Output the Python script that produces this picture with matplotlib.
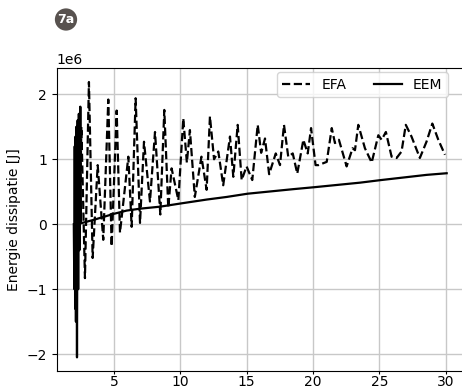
import numpy as np
import matplotlib.pyplot as plt

# EFA (gestippeld), x en energie in 1e6 J
efa_x = [2.10, 2.25, 2.40, 2.55, 2.82, 3.12, 3.40, 3.78, 4.20, 4.58, 4.83, 5.21,
         5.46, 6.09, 6.34, 6.64, 6.97, 7.27, 7.72, 8.10, 8.50, 8.80, 9.10, 9.35,
         9.86, 10.23, 10.50, 10.73, 11.10, 11.60, 11.99, 12.24, 12.55, 12.87, 13.24,
         13.75, 14.00, 14.33, 14.63, 15.00, 15.43, 15.84, 16.10, 16.39, 16.70, 17.20,
         17.52, 17.82, 18.14, 18.48, 18.82, 19.28, 19.61, 19.86, 20.20, 20.41, 21.04,
         21.42, 21.66, 21.96, 22.54, 22.99, 23.17, 23.42, 23.92, 24.43, 24.93, 25.18,
         25.50, 25.93, 26.31, 26.68, 27.00, 27.43, 28.06, 28.56, 29.00, 29.45, 29.95]
efa_y = [0.00, 1.10, -0.30, 1.50, -0.83, 2.19, -0.52, 0.91, -0.24, 1.92, -0.34, 1.75,
         -0.13, 1.04, -0.04, 1.94, 0.02, 1.27, 0.35, 1.42, 0.15, 1.76, 0.25, 0.86,
         0.37, 1.63, 0.95, 1.45, 0.42, 1.04, 0.53, 1.66, 1.00, 1.12, 0.60,
         1.35, 0.73, 1.53, 0.68, 0.89, 0.68, 1.53, 1.10, 1.32, 0.77, 1.09,
         0.91, 1.53, 1.04, 1.09, 0.78, 1.30, 1.09, 1.48, 0.91, 0.91, 0.96,
         1.48, 1.25, 1.30, 0.89, 1.17, 1.14, 1.53, 1.17, 0.95, 1.37, 1.30,
         1.42, 1.04, 1.02, 1.12, 1.53, 1.35, 1.02, 1.27, 1.55, 1.30, 1.07]

# EEM (doorgetrokken)
eem_x = [1.98, 2.02, 2.05, 2.08, 2.11, 2.14, 2.17, 2.22, 2.27, 2.31, 2.36, 2.40,
         2.47, 2.52, 3.45, 5.00, 5.96, 7.00, 8.47, 10.05, 12.00, 13.50, 15.08,
         18.52, 20.10, 23.55, 25.13, 28.57, 30.08]
eem_y = [0.00, -1.00, 1.20, -1.30, 1.35, -1.50, 1.50, -2.05, 1.60, -1.00, 1.70, -0.40,
         1.81, 0.015, 0.066, 0.16, 0.21, 0.24, 0.27, 0.32, 0.38, 0.42, 0.47,
         0.54, 0.57, 0.64, 0.68, 0.76, 0.785]

efa_y = np.array(efa_y) * 1e6
eem_y = np.array(eem_y) * 1e6

fig = plt.figure(figsize=(4.62, 3.9), dpi=100)
ax = fig.add_axes([0.1227, 0.0487, 0.8823, 0.7777])

ax.plot(efa_x, efa_y, '--', color='black', lw=1.6, label='EFA')
ax.plot(eem_x, eem_y, '-', color='black', lw=1.6, label='EEM')

ax.set_xlim(0.69, 31.41)
ax.set_ylim(-2.26e6, 2.41e6)
ax.set_xticks([5, 10, 15, 20, 25, 30])
ax.tick_params(axis='x', length=2, pad=1)
ax.set_ylabel('Energie dissipatie [J]')
ax.grid(True, color='#c8c8c8', lw=1.0)
ax.set_axisbelow(True)
ax.legend(ncol=2, loc='upper right', bbox_to_anchor=(0.96, 0.986), borderaxespad=0)

# badge linksboven
fig.text(66 / 462, 1 - 19.5 / 390, '7a', color='white', fontsize=9, fontweight='bold',
         ha='center', va='center',
         bbox=dict(boxstyle='circle,pad=0.2', fc='#58524f', ec='none'))

fig.savefig('out.png', dpi=100)
